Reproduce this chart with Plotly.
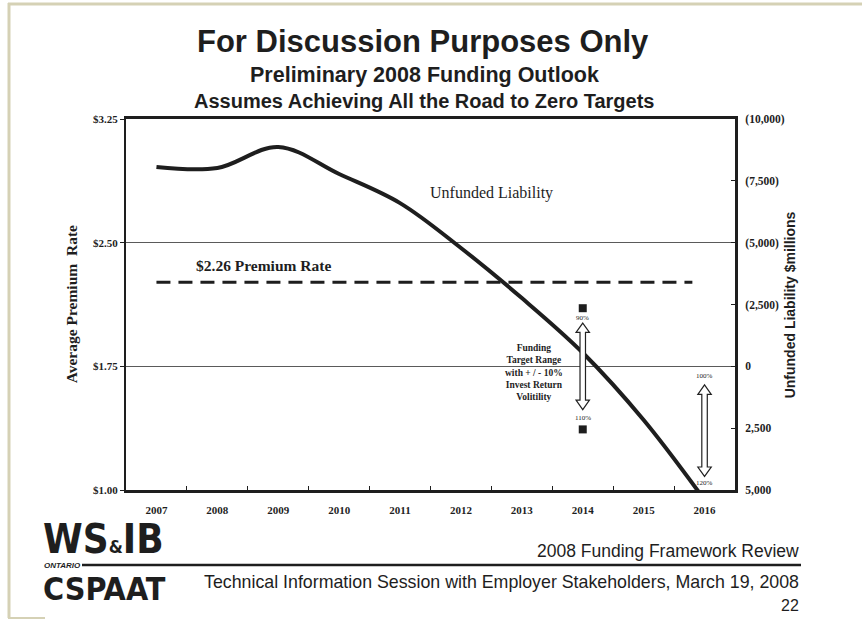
import plotly.graph_objects as go

# ---- data ----
years = [2007, 2008, 2009, 2010, 2011, 2012, 2013, 2014, 2015, 2016]
year_labels = [str(y) for y in years]
unfunded_liability = [-8060, -8020, -8870, -7775, -6600, -4785, -2760, -550, 2170, 5400]  # $millions
premium_rate_x = [2007, 2015.8]
premium_rate = [2.26, 2.26]
left_ticks = [1.00, 1.75, 2.50, 3.25]
left_tick_text = ["$1.00", "$1.75", "$2.50", "$3.25"]
right_ticks = [-10000, -7500, -5000, -2500, 0, 2500, 5000]
right_tick_text = ["(10,000)", "(7,500)", "(5,000)", "(2,500)", "0", "2,500", "5,000"]
band_year = 2014
band_markers = [-2350, 2550]
arrow_ranges = [(2014, -1750, 1750), (2016, 750, 4450)]
arrow_labels = [(2014, -1950, "90%"), (2014, 2080, "110%"), (2016, 390, "100%"), (2016, 4700, "120%")]

SERIF = "Liberation Serif, Times New Roman, serif"
SANS = "Liberation Sans, Arial, sans-serif"
NARROW = "DejaVu Sans Condensed, Roboto Condensed, Liberation Sans Narrow, Liberation Sans, sans-serif"
INK = "#1e1e1e"

fig = go.Figure()

fig.add_trace(go.Scatter(
    x=years, y=unfunded_liability, yaxis="y2", mode="lines",
    line=dict(color=INK, width=4, shape="spline", smoothing=1.0),
    showlegend=False, hoverinfo="skip"))

fig.add_trace(go.Scatter(
    x=premium_rate_x, y=premium_rate, yaxis="y", mode="lines",
    line=dict(color=INK, width=3, dash="14px,8px"),
    showlegend=False, hoverinfo="skip"))

fig.add_trace(go.Scatter(
    x=[band_year] * len(band_markers), y=band_markers, yaxis="y2", mode="markers",
    marker=dict(symbol="square", size=8, color=INK),
    showlegend=False, hoverinfo="skip"))

# hollow double-headed arrows
sw, hw = 0.045, 0.11   # half widths (years)
hl = 380               # head length ($millions)
for (ax, ya, yb) in arrow_ranges:
    pts = [(ax, ya), (ax + hw, ya + hl), (ax + sw, ya + hl), (ax + sw, yb - hl), (ax + hw, yb - hl),
           (ax, yb), (ax - hw, yb - hl), (ax - sw, yb - hl), (ax - sw, ya + hl), (ax - hw, ya + hl)]
    path = "M " + " L ".join(f"{px},{py}" for px, py in pts) + " Z"
    fig.add_shape(type="path", path=path, xref="x", yref="y2",
                  fillcolor="white", line=dict(color="#222", width=1.2))

annotations = []
for (ax, ay, t) in arrow_labels:
    annotations.append(dict(x=ax, y=ay, xref="x", yref="y2", text=t, showarrow=False,
                            font=dict(family=SERIF, size=7, color=INK)))

annotations += [
    dict(x=2013.2, y=230, xref="x", yref="y2",
         text="<b>Funding<br>Target Range<br>with + / - 10%<br>Invest Return<br>Volitility</b>",
         showarrow=False, align="center", font=dict(family=SERIF, size=9.5, color=INK)),
    dict(x=2012.5, y=-7000, xref="x", yref="y2", text="Unfunded Liability", showarrow=False,
         font=dict(family=SERIF, size=16, color=INK)),
    dict(x=2008.75, y=2.36, xref="x", yref="y", text="<b>$2.26 Premium Rate</b>", showarrow=False,
         font=dict(family=SERIF, size=15.5, color=INK)),
    # axis titles
    dict(x=-0.089, y=0.5, xref="paper", yref="paper", text="<b>Average Premium  Rate</b>",
         xanchor="center", yanchor="middle",
         textangle=-90, showarrow=False, font=dict(family=SERIF, size=15.5, color=INK)),
    dict(x=1.09, y=0.5, xref="paper", yref="paper", text="<b>Unfunded Liability $millions</b>",
         xanchor="center", yanchor="middle",
         textangle=-90, showarrow=False, font=dict(family=SANS, size=14, color=INK)),
]

def px_to_paper(px, py):
    return (px - 126) / 609.0, (490 - py) / 371.0

def add_text(px, py, text, size, family=SANS, xanchor="center", bold=False, italic=False):
    x, y = px_to_paper(px, py)
    t = text
    if bold:
        t = f"<b>{t}</b>"
    if italic:
        t = f"<i>{t}</i>"
    annotations.append(dict(x=x, y=y, xref="paper", yref="paper", text=t, showarrow=False,
                            xanchor=xanchor, yanchor="middle",
                            font=dict(family=family, size=size, color=INK)))

add_text(423, 41, "For Discussion Purposes Only", 31, bold=True)
add_text(424, 75, "Preliminary 2008 Funding Outlook", 21.5, bold=True)
add_text(424, 101, "Assumes Achieving All the Road to Zero Targets", 20, bold=True)
# footer
add_text(801, 551, "2008 Funding Framework Review", 17.5, xanchor="right")
add_text(801, 582, "Technical Information Session with Employer Stakeholders, March 19, 2008", 17.8, xanchor="right")
add_text(801, 605, "22", 16, xanchor="right")
# logo
add_text(41, 539, "WS<span style='font-size:18px'>&amp;</span>IB", 40, family=NARROW, bold=True, xanchor="left")
add_text(42, 565, "ONTARIO", 8, bold=True, italic=True, xanchor="left")
add_text(41, 589, "CSPAAT", 32, family=NARROW, bold=True, xanchor="left")

def hline_px(x0, x1, y, color, width):
    a0, b0 = px_to_paper(x0, y)
    a1, _ = px_to_paper(x1, y)
    fig.add_shape(type="line", xref="paper", yref="paper", x0=a0, x1=a1, y0=b0, y1=b0,
                  line=dict(color=color, width=width))

def vline_px(x, y0, y1, color, width):
    a0, b0 = px_to_paper(x, y0)
    _, b1 = px_to_paper(x, y1)
    fig.add_shape(type="line", xref="paper", yref="paper", x0=a0, x1=a0, y0=b0, y1=b1,
                  line=dict(color=color, width=width))

hline_px(82, 801, 565, INK, 2.5)
# page border (beige)
hline_px(8, 862, 4, "#d5d1b5", 3)
vline_px(9, 3, 618, "#d5d1b5", 3)
hline_px(8, 45, 618, "#d5d1b5", 2)

fig.update_layout(
    width=862, height=628,
    margin=dict(l=126, r=127, t=119, b=138),
    paper_bgcolor="white", plot_bgcolor="white",
    annotations=annotations,
    xaxis=dict(
        range=[2006.5, 2016.5], tickmode="array", tickvals=years, ticktext=[f"<b>{t}</b>" for t in year_labels],
        ticks="", showgrid=False, zeroline=False,
        showline=True, linewidth=3, linecolor=INK, mirror=True,
        tickfont=dict(family=SERIF, size=11, color=INK), ticklabelstandoff=8,
        minor=dict(tickmode="array", tickvals=[y + 0.5 for y in years[:-1]],
                   ticks="inside", ticklen=4, tickwidth=1, tickcolor=INK, showgrid=False),
    ),
    yaxis=dict(
        range=[1.0, 3.25], tickmode="array", tickvals=left_ticks, ticktext=[f"<b>{t}</b>" for t in left_tick_text],
        ticks="outside", ticklen=4, tickcolor=INK,
        showgrid=True, gridcolor="#5a5a5a", gridwidth=1, zeroline=False,
        showline=True, linewidth=2, linecolor=INK,
        tickfont=dict(family=SERIF, size=11, color=INK),
    ),
    yaxis2=dict(
        overlaying="y", side="right", range=[5000, -10000],
        tickmode="array", tickvals=right_ticks, ticktext=[f"<b>{t}</b>" for t in right_tick_text],
        ticks="inside", ticklen=4, tickcolor=INK,
        showgrid=False, zeroline=False,
        showline=True, linewidth=3, linecolor=INK,
        tickfont=dict(family=SERIF, size=11.5, color=INK), ticklabelstandoff=5,
    ),
)

fig.write_html("out.html", config={"displayModeBar": False},
               post_script="document.body.style.margin='0';")
